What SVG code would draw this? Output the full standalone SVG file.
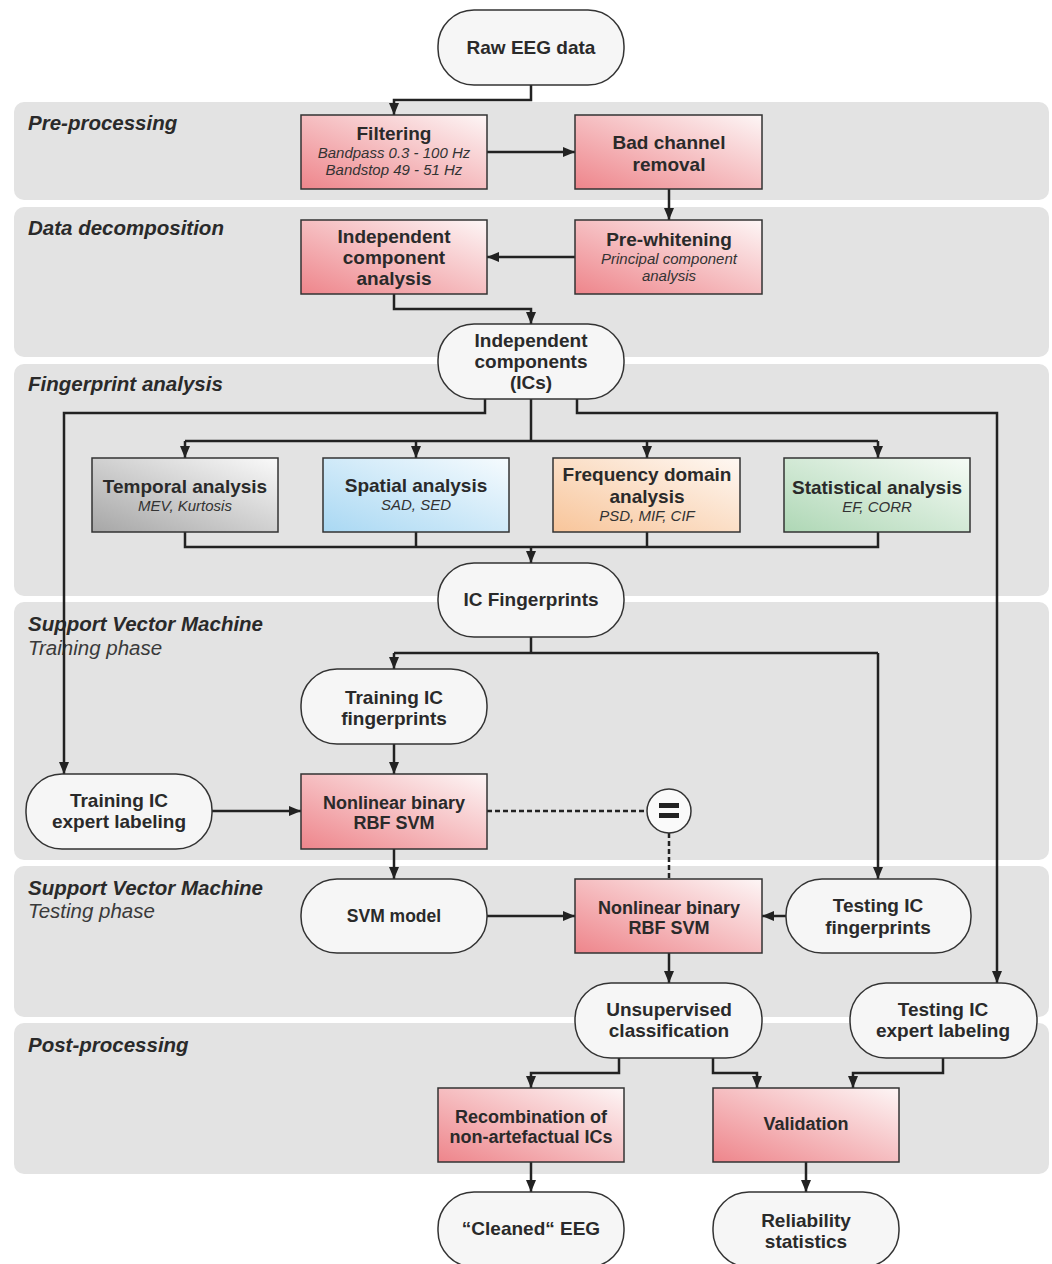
<svg xmlns="http://www.w3.org/2000/svg" width="1052" height="1264" viewBox="0 0 1052 1264">
<defs>
<style>
.band{fill:#e3e3e3;}
.blabel{font-family:"Liberation Sans",Arial,sans-serif;font-size:20.5px;font-weight:bold;font-style:italic;fill:#2a2a2a;}
.bsub{font-family:"Liberation Sans",Arial,sans-serif;font-size:20.5px;font-style:italic;fill:#3a3a3a;}
.pill{fill:#f6f6f6;stroke:#333;stroke-width:1.5;}
.box{stroke:#333;stroke-width:1.5;}
.t{font-family:"Liberation Sans",Arial,sans-serif;font-size:19px;font-weight:bold;fill:#2a2a2a;text-anchor:middle;}
.t18{font-size:18px;}
.s{font-family:"Liberation Sans",Arial,sans-serif;font-size:15px;font-style:italic;fill:#333;text-anchor:middle;}
.c{fill:none;stroke:#222;stroke-width:2.5;}
.d{fill:none;stroke:#222;stroke-width:2.5;stroke-dasharray:5,3;}
</style>
<linearGradient id="gr" x1="0" y1="1" x2="1" y2="0"><stop offset="0" stop-color="#ee858b"/><stop offset="1" stop-color="#fdf6f6"/></linearGradient>
<linearGradient id="gg" x1="0" y1="1" x2="1" y2="0"><stop offset="0" stop-color="#a6a6a6"/><stop offset="1" stop-color="#fafafa"/></linearGradient>
<linearGradient id="gb" x1="0" y1="1" x2="1" y2="0"><stop offset="0" stop-color="#a9d8f3"/><stop offset="1" stop-color="#f6fbfe"/></linearGradient>
<linearGradient id="go" x1="0" y1="1" x2="1" y2="0"><stop offset="0" stop-color="#f8c59a"/><stop offset="1" stop-color="#fef8f3"/></linearGradient>
<linearGradient id="gn" x1="0" y1="1" x2="1" y2="0"><stop offset="0" stop-color="#aed7b5"/><stop offset="1" stop-color="#f6fbf6"/></linearGradient>
<marker id="ah" viewBox="0 0 12 10" refX="12" refY="5" markerWidth="12" markerHeight="10" markerUnits="userSpaceOnUse" orient="auto"><path d="M0,0 L12,5 L0,10 z" fill="#222"/></marker>
</defs>

<g id="bands">
<rect class="band" x="14" y="102" width="1035" height="98" rx="10"/>
<rect class="band" x="14" y="207" width="1035" height="150" rx="10"/>
<rect class="band" x="14" y="364" width="1035" height="232" rx="10"/>
<rect class="band" x="14" y="602" width="1035" height="258" rx="10"/>
<rect class="band" x="14" y="866" width="1035" height="151" rx="10"/>
<rect class="band" x="14" y="1023" width="1035" height="151" rx="10"/>
<text class="blabel" x="28" y="130">Pre-processing</text>
<text class="blabel" x="28" y="235">Data decomposition</text>
<text class="blabel" x="28" y="391">Fingerprint analysis</text>
<text class="blabel" x="28" y="631">Support Vector Machine</text>
<text class="bsub" x="28" y="655">Training phase</text>
<text class="blabel" x="28" y="895">Support Vector Machine</text>
<text class="bsub" x="28" y="918">Testing phase</text>
<text class="blabel" x="28" y="1052">Post-processing</text>
</g>

<g id="connectors">
<path class="c" d="M531,85 V100 H394 V115" marker-end="url(#ah)"/>
<path class="c" d="M487,152 H575" marker-end="url(#ah)"/>
<path class="c" d="M669,189 V220" marker-end="url(#ah)"/>
<path class="c" d="M575,257 H487" marker-end="url(#ah)"/>
<path class="c" d="M394,294 V309 H531 V324" marker-end="url(#ah)"/>
<path class="c" d="M485,399 V413 H64 V774" marker-end="url(#ah)"/>
<path class="c" d="M577,399 V413 H997 V983" marker-end="url(#ah)"/>
<path class="c" d="M531,399 V441"/>
<path class="c" d="M185,441 H878"/>
<path class="c" d="M185,441 V458" marker-end="url(#ah)"/>
<path class="c" d="M416,441 V458" marker-end="url(#ah)"/>
<path class="c" d="M647,441 V458" marker-end="url(#ah)"/>
<path class="c" d="M878,441 V458" marker-end="url(#ah)"/>
<path class="c" d="M185,532 V547 H878 V532"/>
<path class="c" d="M416,532 V547"/>
<path class="c" d="M647,532 V547"/>
<path class="c" d="M531,547 V563" marker-end="url(#ah)"/>
<path class="c" d="M531,637 V653"/>
<path class="c" d="M394,653 H878"/>
<path class="c" d="M394,653 V669" marker-end="url(#ah)"/>
<path class="c" d="M878,653 V879" marker-end="url(#ah)"/>
<path class="c" d="M394,744 V774" marker-end="url(#ah)"/>
<path class="c" d="M212,811 H301" marker-end="url(#ah)"/>
<path class="d" d="M487,811 H647"/>
<path class="d" d="M669,833 V879"/>
<path class="c" d="M394,849 V879" marker-end="url(#ah)"/>
<path class="c" d="M487,916 H575" marker-end="url(#ah)"/>
<path class="c" d="M786,916 H762" marker-end="url(#ah)"/>
<path class="c" d="M669,953 V983" marker-end="url(#ah)"/>
<path class="c" d="M619,1058 V1073 H531 V1088" marker-end="url(#ah)"/>
<path class="c" d="M713,1058 V1073 H757 V1088" marker-end="url(#ah)"/>
<path class="c" d="M943,1058 V1073 H853 V1088" marker-end="url(#ah)"/>
<path class="c" d="M531,1162 V1192" marker-end="url(#ah)"/>
<path class="c" d="M806,1162 V1192" marker-end="url(#ah)"/>
</g>

<g id="raw-eeg"><rect class="pill" x="438" y="10" width="186" height="75" rx="36"/><text class="t" x="531" y="54">Raw EEG data</text></g>

<g id="filtering"><rect class="box" fill="url(#gr)" x="301" y="115" width="186" height="74"/>
<text class="t" x="394" y="140">Filtering</text>
<text class="s" x="394" y="158">Bandpass 0.3 - 100 Hz</text>
<text class="s" x="394" y="175">Bandstop 49 - 51 Hz</text></g>

<g id="bad-channel"><rect class="box" fill="url(#gr)" x="575" y="115" width="187" height="74"/>
<text class="t" x="669" y="149">Bad channel</text>
<text class="t" x="669" y="171">removal</text></g>

<g id="ica"><rect class="box" fill="url(#gr)" x="301" y="220" width="186" height="74"/>
<text class="t" x="394" y="243">Independent</text>
<text class="t" x="394" y="264">component</text>
<text class="t" x="394" y="285">analysis</text></g>

<g id="pre-whitening"><rect class="box" fill="url(#gr)" x="575" y="220" width="187" height="74"/>
<text class="t" x="669" y="246">Pre-whitening</text>
<text class="s" x="669" y="264">Principal component</text>
<text class="s" x="669" y="281">analysis</text></g>

<g id="ics"><rect class="pill" x="438" y="324" width="186" height="75" rx="36"/>
<text class="t" x="531" y="347">Independent</text>
<text class="t" x="531" y="368">components</text>
<text class="t" x="531" y="389">(ICs)</text></g>

<g id="temporal"><rect class="box" fill="url(#gg)" x="92" y="458" width="186" height="74"/>
<text class="t" x="185" y="493">Temporal analysis</text>
<text class="s" x="185" y="511">MEV, Kurtosis</text></g>

<g id="spatial"><rect class="box" fill="url(#gb)" x="323" y="458" width="186" height="74"/>
<text class="t" x="416" y="492">Spatial analysis</text>
<text class="s" x="416" y="510">SAD, SED</text></g>

<g id="frequency"><rect class="box" fill="url(#go)" x="553" y="458" width="187" height="74"/>
<text class="t" x="647" y="481">Frequency domain</text>
<text class="t" x="647" y="503">analysis</text>
<text class="s" x="647" y="521">PSD, MIF, CIF</text></g>

<g id="statistical"><rect class="box" fill="url(#gn)" x="784" y="458" width="186" height="74"/>
<text class="t" x="877" y="494">Statistical analysis</text>
<text class="s" x="877" y="512">EF, CORR</text></g>

<g id="ic-fingerprints"><rect class="pill" x="438" y="563" width="186" height="74" rx="36"/>
<text class="t" x="531" y="606">IC Fingerprints</text></g>

<g id="training-fp"><rect class="pill" x="301" y="669" width="186" height="75" rx="36"/>
<text class="t" x="394" y="704">Training IC</text>
<text class="t" x="394" y="725">fingerprints</text></g>

<g id="training-labeling"><rect class="pill" x="26" y="774" width="186" height="75" rx="36"/>
<text class="t" x="119" y="807">Training IC</text>
<text class="t" x="119" y="828">expert labeling</text></g>

<g id="svm-train"><rect class="box" fill="url(#gr)" x="301" y="774" width="186" height="75"/>
<text class="t t18" x="394" y="809">Nonlinear binary</text>
<text class="t t18" x="394" y="829">RBF SVM</text></g>

<g id="equal"><circle cx="669" cy="811" r="22" fill="#fafafa" stroke="#333" stroke-width="1.5"/>
<rect x="659" y="803" width="20" height="5" fill="#222"/><rect x="659" y="813" width="20" height="5" fill="#222"/></g>

<g id="svm-model"><rect class="pill" x="301" y="879" width="186" height="74" rx="36"/>
<text class="t" x="394" y="922" style="font-size:17.5px">SVM model</text></g>

<g id="svm-test"><rect class="box" fill="url(#gr)" x="575" y="879" width="187" height="74"/>
<text class="t t18" x="669" y="914">Nonlinear binary</text>
<text class="t t18" x="669" y="934">RBF SVM</text></g>

<g id="testing-fp"><rect class="pill" x="786" y="879" width="185" height="74" rx="36"/>
<text class="t" x="878" y="912">Testing IC</text>
<text class="t" x="878" y="934">fingerprints</text></g>

<g id="unsupervised"><rect class="pill" x="575" y="983" width="187" height="75" rx="36"/>
<text class="t" x="669" y="1016">Unsupervised</text>
<text class="t" x="669" y="1037">classification</text></g>

<g id="testing-labeling"><rect class="pill" x="850" y="983" width="187" height="75" rx="36"/>
<text class="t" x="943" y="1016">Testing IC</text>
<text class="t" x="943" y="1037">expert labeling</text></g>

<g id="recombination"><rect class="box" fill="url(#gr)" x="438" y="1088" width="186" height="74"/>
<text class="t t18" x="531" y="1123">Recombination of</text>
<text class="t t18" x="531" y="1143">non-artefactual ICs</text></g>

<g id="validation"><rect class="box" fill="url(#gr)" x="713" y="1088" width="186" height="74"/>
<text class="t t18" x="806" y="1130">Validation</text></g>

<g id="cleaned-eeg"><rect class="pill" x="438" y="1192" width="186" height="75" rx="36"/>
<text class="t" x="531" y="1235">“Cleaned“ EEG</text></g>

<g id="reliability"><rect class="pill" x="713" y="1192" width="186" height="75" rx="36"/>
<text class="t" x="806" y="1227">Reliability</text>
<text class="t" x="806" y="1248">statistics</text></g>
</svg>
